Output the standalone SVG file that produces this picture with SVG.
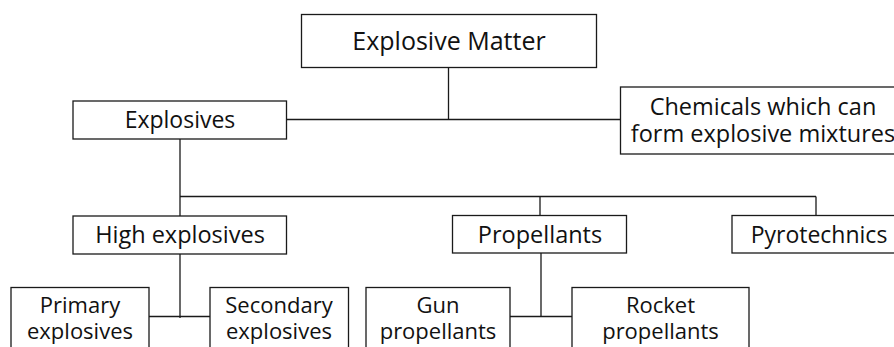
<svg xmlns="http://www.w3.org/2000/svg" width="894" height="347" viewBox="0 0 894 347">
<style>
rect{fill:#fff;stroke:#1a1a1a;stroke-width:1.3}
line{stroke:#1a1a1a;stroke-width:1.3}
text{font-family:"Open Sans","Noto Sans",sans-serif;font-size:23px;fill:#111;text-anchor:middle}
.t{font-size:25px}
.m{font-size:23.5px}
.s{font-size:22px}
</style>
<rect width="894" height="347" fill="#fff" style="stroke:none"/>
<g id="connectors">
<line x1="448.5" y1="67" x2="448.5" y2="120"/>
<line x1="286.5" y1="119.5" x2="620" y2="119.5"/>
<line x1="180" y1="139" x2="180" y2="216"/>
<line x1="180" y1="196.5" x2="816" y2="196.5"/>
<line x1="540" y1="196.5" x2="540" y2="215"/>
<line x1="816" y1="196.5" x2="816" y2="215"/>
<line x1="180" y1="254" x2="180" y2="318"/>
<line x1="149" y1="316.5" x2="210" y2="316.5"/>
<line x1="541" y1="253" x2="541" y2="317"/>
<line x1="510" y1="316.5" x2="572" y2="316.5"/>
</g>
<g id="explosive-matter"><rect x="301.5" y="14.5" width="295" height="53"/><text class="t" x="449" y="50">Explosive Matter</text></g>
<g id="explosives"><rect x="73" y="101" width="213.5" height="38"/><text x="180" y="128">Explosives</text></g>
<g id="chemicals"><rect x="620.5" y="87" width="286" height="67"/><text class="m" x="763" y="115">Chemicals which can</text><text class="m" x="763" y="142">form explosive mixtures</text></g>
<g id="high-explosives"><rect x="73" y="216" width="213.5" height="38"/><text class="m" x="180" y="243">High explosives</text></g>
<g id="propellants"><rect x="452.5" y="215.5" width="174" height="37.5"/><text class="m" x="540" y="243">Propellants</text></g>
<g id="pyrotechnics"><rect x="732" y="215.5" width="174" height="37.5"/><text x="819" y="243">Pyrotechnics</text></g>
<g id="primary"><rect x="11" y="287.5" width="138" height="70"/><text class="s" x="80" y="313">Primary</text><text class="s" x="80" y="339">explosives</text></g>
<g id="secondary"><rect x="210" y="287.5" width="138.5" height="70"/><text class="s" x="279" y="313">Secondary</text><text class="s" x="279" y="339">explosives</text></g>
<g id="gun"><rect x="366" y="287.5" width="144" height="70"/><text class="s" x="438" y="313">Gun</text><text class="s" x="438" y="339">propellants</text></g>
<g id="rocket"><rect x="572" y="287.5" width="177" height="70"/><text class="s" x="660.5" y="313">Rocket</text><text class="s" x="660.5" y="339">propellants</text></g>
</svg>
